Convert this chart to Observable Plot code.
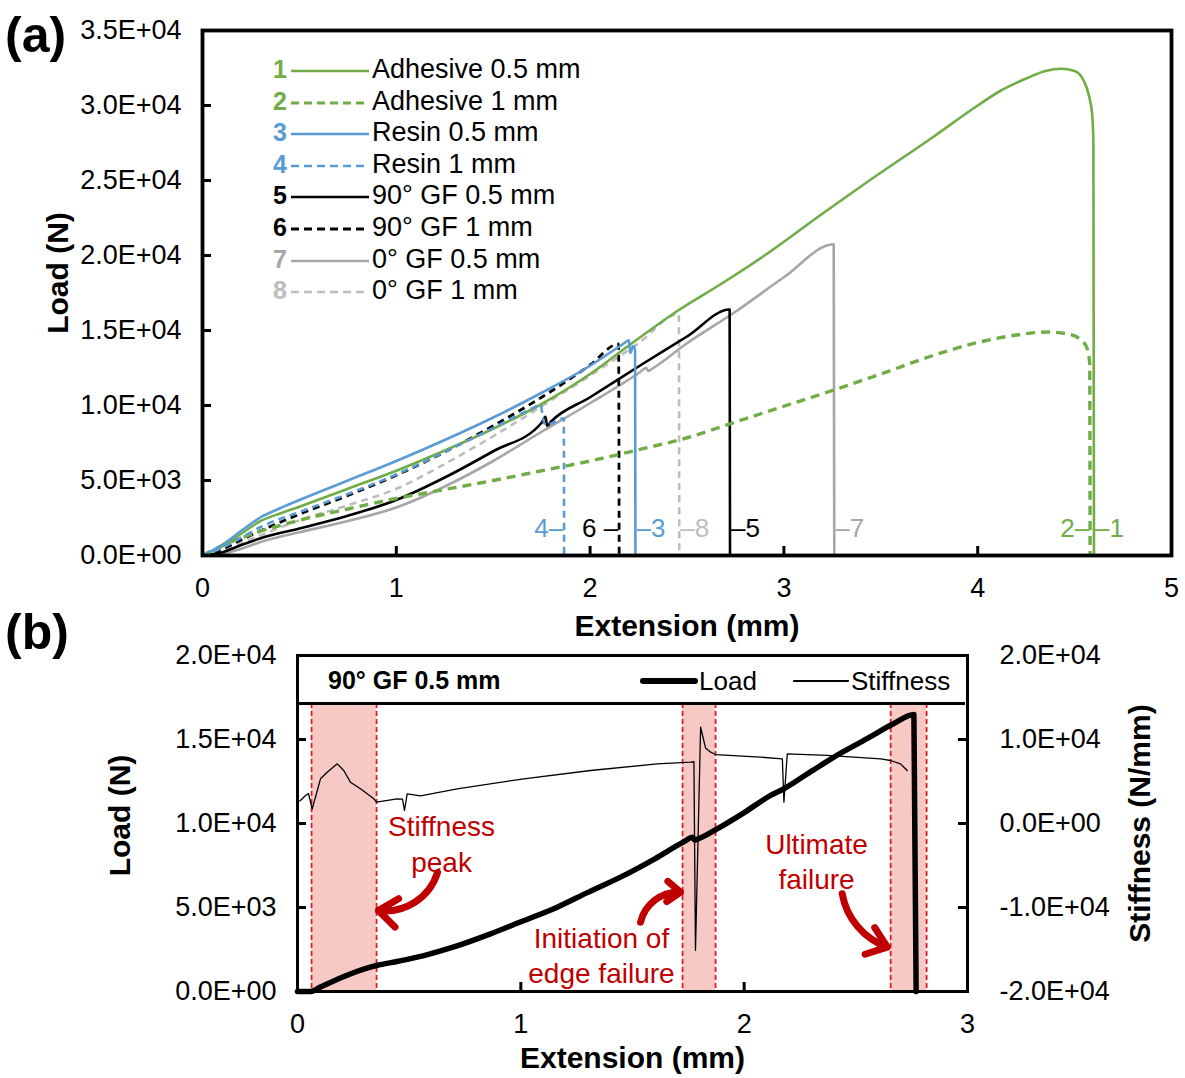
<!DOCTYPE html>
<html><head><meta charset="utf-8">
<script src="https://cdn.jsdelivr.net/npm/d3@7"></script>
<script src="https://cdn.jsdelivr.net/npm/@observablehq/plot@0.6"></script>
<style>
body{margin:0;background:#fff;}
#wrap{position:relative;width:1185px;height:1078px;font-family:'Liberation Sans',Arial,sans-serif;overflow:hidden;}
.lg{position:absolute;white-space:nowrap;line-height:1;}
</style></head><body><div id="wrap"></div>
<script>
// ---------- DATA: panel (a) load–extension curves [extension mm, load N] ----------
const adhesive05 = [[0,0],[0.1,600],[0.2,1450],[0.3,2300],[0.4,2800],[0.5,3250],[0.75,4450],[1.0,5650],[1.25,7000],[1.5,8450],[1.75,10100],[2.0,12100],[2.2,14000],[2.45,16300],[2.7,18300],[2.9,20000],[3.2,22800],[3.43,24900],[3.77,27900],[4.0,30000],[4.12,31000],[4.25,31800],[4.35,32300],[4.43,32450],[4.5,32300],[4.545,31700],[4.575,30600],[4.592,29200],[4.597,27500],[4.6,0]];
const adhesive1 = [[0,0],[0.1,650],[0.25,1400],[0.5,2350],[0.75,3100],[1.0,3800],[1.25,4400],[1.5,5000],[1.75,5650],[2.0,6300],[2.25,7050],[2.5,7850],[2.75,8900],[3.0,9950],[3.25,11000],[3.5,12100],[3.75,13250],[4.0,14200],[4.2,14700],[4.36,14900],[4.47,14750],[4.53,14400],[4.565,13800],[4.578,12800],[4.58,0]];
const resin05 = [[0,0],[0.1,700],[0.2,1650],[0.3,2550],[0.4,3150],[0.5,3700],[0.75,5000],[1.0,6300],[1.25,7700],[1.5,9200],[1.75,10850],[2.0,12650],[2.17,14100],[2.2,14350],[2.207,13500],[2.222,13950],[2.232,13700],[2.234,0]];
const resin1 = [[0,0],[0.1,500],[0.2,1200],[0.3,1900],[0.5,2900],[0.75,4100],[1.0,5400],[1.25,6900],[1.5,8500],[1.7,9800],[1.745,10050],[1.755,9300],[1.77,8700],[1.8,8800],[1.864,9150],[1.866,0]];
const gf90_05 = [[0,0],[0.1,200],[0.2,700],[0.3,1150],[0.5,1800],[0.75,2650],[1.0,3700],[1.25,5200],[1.5,6950],[1.75,8850],[1.77,9250],[1.778,8650],[1.8,8950],[2.0,10550],[2.25,12600],[2.5,14600],[2.72,16400],[2.722,0]];
const gf90_1 = [[0,0],[0.1,400],[0.2,1050],[0.3,1650],[0.5,2750],[0.75,4000],[1.0,5350],[1.25,6900],[1.5,8650],[1.75,10550],[2.0,12700],[2.147,14100],[2.15,0]];
const gf0_05 = [[0,0],[0.1,100],[0.2,450],[0.3,900],[0.5,1550],[0.75,2300],[1.0,3200],[1.25,4600],[1.5,6300],[1.75,8250],[2.0,10150],[2.25,12150],[2.29,12500],[2.3,12300],[2.32,12450],[2.5,14150],[2.75,16250],[3.0,18550],[3.257,20750],[3.26,0]];
const gf0_1 = [[0,0],[0.1,300],[0.2,850],[0.3,1350],[0.5,2350],[0.75,3350],[1.0,4450],[1.25,6100],[1.5,7950],[1.75,9950],[2.0,12000],[2.25,14150],[2.458,16100],[2.46,0]];

const seriesIds = [1,2,3,4,5,6,7,8];
const seriesNames = ["Adhesive 0.5 mm","Adhesive 1 mm","Resin 0.5 mm","Resin 1 mm","90° GF 0.5 mm","90° GF 1 mm","0° GF 0.5 mm","0° GF 1 mm"];
const seriesData = [adhesive05, adhesive1, resin05, resin1, gf90_05, gf90_1, gf0_05, gf0_1];
// failure-point labels: series id, text, which side of the drop line
const dropLabelIds = [4,6,3,8,5,7,2,1];
const dropLabelTexts = ["4–","6 –","–3","–8","–5","–7","2–","–1"];
const dropLabelSides = ["left","left","right","right","right","right","left","right"];
const dropLabelLoad = 1800;

// tick values / labels panel (a)
const xTicksA = [0,1,2,3,4,5];
const xTickLabelsA = ["0","1","2","3","4","5"];
const yTicksA = [0,5000,10000,15000,20000,25000,30000,35000];
const yTickLabelsA = ["0.0E+00","5.0E+03","1.0E+04","1.5E+04","2.0E+04","2.5E+04","3.0E+04","3.5E+04"];

// ---------- DATA: panel (b) 90° GF 0.5 mm ----------
const loadB = [[0,0],[0.06,0],[0.1,250],[0.2,850],[0.3,1350],[0.354,1550],[0.45,1800],[0.566,2140],[0.7,2650],[0.864,3430],[1.0,4150],[1.163,5020],[1.3,5900],[1.46,6900],[1.6,7900],[1.727,8890],[1.77,9180],[1.778,9020],[1.8,9120],[1.875,9650],[2.0,10650],[2.118,11670],[2.178,12070],[2.3,13100],[2.43,14170],[2.55,15050],[2.67,15950],[2.76,16490],[2.77,0]];
const stiffB = [[0.0,2600],[0.013,2740],[0.036,3330],[0.049,3570],[0.066,1750],[0.103,5320],[0.133,6110],[0.178,7100],[0.207,6310],[0.237,4920],[0.282,4130],[0.342,2940],[0.354,2540],[0.446,2940],[0.47,2900],[0.479,1550],[0.491,3530],[0.551,3300],[0.715,4130],[1.013,5320],[1.312,6310],[1.611,7100],[1.76,7300],[1.775,7350],[1.782,-15100],[1.805,11460],[1.827,9000],[1.85,8490],[1.872,8210],[2.073,7900],[2.171,7700],[2.178,2540],[2.193,8300],[2.372,8100],[2.611,7700],[2.656,7500],[2.7,7100],[2.73,6310]];
const zoneStart = [0.063,1.724,2.656];
const zoneEnd = [0.354,1.872,2.817];
const annotTexts = ["Stiffness\npeak","Initiation of\nedge failure","Ultimate\nfailure"];
const annotX = [0.645,1.361,2.324];
const annotLoad = [8870,2232,7827];
const arrowFrom = [[0.627,7083],[1.536,4125],[2.439,5815]];
const arrowTo = [[0.362,4820],[1.715,5910],[2.641,2637]];
const arrowBend = [40,40,-30];

const xTicksB = [0,1,2,3];
const xTickLabelsB = ["0","1","2","3"];
const loadTicksB = [0,5000,10000,15000,20000];
const loadTickLabelsB = ["0.0E+00","5.0E+03","1.0E+04","1.5E+04","2.0E+04"];
const stiffTicksB = [-20000,-10000,0,10000,20000];
const stiffTickLabelsB = ["-2.0E+04","-1.0E+04","0.0E+00","1.0E+04","2.0E+04"];

// ---------- STYLES ----------
const FONT = "'Liberation Sans', Arial, sans-serif";
const GREEN = "#70ad47", BLUE = "#5b9bd5", GRAY = "#a6a6a6", LGRAY = "#bdbdbd", RED = "#c00000";
const styleById = {
  1:{stroke:GREEN, dash:null, w:2.6},
  2:{stroke:GREEN, dash:"9,6", w:3.4},
  3:{stroke:BLUE, dash:null, w:2.6},
  4:{stroke:BLUE, dash:"7,5", w:2.6},
  5:{stroke:"#000", dash:null, w:2.6},
  6:{stroke:"#000", dash:"7,5", w:2.8},
  7:{stroke:GRAY, dash:null, w:2.6},
  8:{stroke:LGRAY, dash:"7,5", w:2.6}
};
const drawOrder = [8,7,6,5,2,1,4,3];

const wrap = document.getElementById("wrap");
function place(el, left, top){ el.style.position="absolute"; el.style.left=left+"px"; el.style.top=top+"px"; wrap.appendChild(el); return el; }
const lookup = (vals, labels) => { const m = new Map(vals.map((v,i)=>[v,labels[i]])); return d => m.get(d); };

// ---------- PANEL (a) ----------
const A = {w:1185, h:640, ml:202, mr:14, mt:30, mb:85};
const innerHA = A.h - A.mt - A.mb, innerWA = A.w - A.ml - A.mr;
const lineMarksA = drawOrder.map(id => {
  const s = styleById[id];
  return Plot.line(seriesData[id-1], {x:d=>d[0], y:d=>d[1], curve:"monotone-x", stroke:s.stroke, strokeWidth:s.w, strokeDasharray:s.dash, strokeLinecap:"butt"});
});
const dropRows = dropLabelIds.map((id,i)=>({id, text:dropLabelTexts[i], side:dropLabelSides[i], x: seriesData[id-1][seriesData[id-1].length-1][0]}));
const plotA = Plot.plot({
  width:A.w, height:A.h, marginLeft:A.ml, marginRight:A.mr, marginTop:A.mt, marginBottom:A.mb,
  x:{domain:[0,5]}, y:{domain:[0,35000]},
  style:{fontFamily:FONT, background:"none", overflow:"visible", color:"#000"},
  marks:[
    ...lineMarksA,
    Plot.text(dropRows.filter(d=>d.side==="left"), {x:"x", y:()=>dropLabelLoad, text:"text", fill:d=>styleById[d.id].stroke, textAnchor:"end", dx:-1, fontSize:26}),
    Plot.text(dropRows.filter(d=>d.side==="right"), {x:"x", y:()=>dropLabelLoad, text:"text", fill:d=>styleById[d.id].stroke, textAnchor:"start", dx:1, fontSize:26}),
    Plot.tickX(xTicksA.slice(1,-1), {x:d=>d, insetTop:innerHA-9, strokeWidth:3}),
    Plot.tickY(yTicksA.slice(1,-1), {y:d=>d, insetRight:innerWA-9, strokeWidth:3}),
    Plot.frame({strokeWidth:3.8}),
    Plot.axisX(xTicksA, {tickSize:0, tickPadding:22, tickFormat:lookup(xTicksA,xTickLabelsA), label:null, fontSize:27}),
    Plot.axisY(yTicksA, {tickSize:0, tickPadding:21, tickFormat:lookup(yTicksA,yTickLabelsA), label:null, fontSize:27}),
    Plot.text(["Extension (mm)"], {frameAnchor:"bottom", dy:71, lineAnchor:"middle", textAnchor:"middle", fontWeight:"bold", fontSize:30}),
    Plot.text(["Load (N)"], {frameAnchor:"left", dx:-144, dy:-20, rotate:-90, textAnchor:"middle", lineAnchor:"middle", fontWeight:"bold", fontSize:30})
  ]
});
place(plotA, 0, 0);

// legend (a)
const rowTop0 = 71, rowStep = 31.6;
seriesIds.forEach((id,i)=>{
  const s = styleById[id];
  const cy = rowTop0 + i*rowStep;
  const num = document.createElement("div"); num.className="lg";
  num.textContent = String(id);
  num.style.cssText += `font-weight:bold;font-size:25px;color:${s.stroke};width:24px;text-align:right;`;
  place(num, 263, cy-14);
  const sv = document.createElementNS("http://www.w3.org/2000/svg","svg");
  sv.setAttribute("width","80"); sv.setAttribute("height","10");
  const ln = document.createElementNS("http://www.w3.org/2000/svg","line");
  ln.setAttribute("x1","0"); ln.setAttribute("x2","78"); ln.setAttribute("y1","5"); ln.setAttribute("y2","5");
  ln.setAttribute("stroke", s.stroke); ln.setAttribute("stroke-width", String(Math.min(s.w,3)));
  if (s.dash) ln.setAttribute("stroke-dasharray","8,5");
  sv.appendChild(ln);
  place(sv, 291, cy-5);
  const lab = document.createElement("div"); lab.className="lg";
  lab.textContent = seriesNames[i];
  lab.style.cssText += "font-size:27px;color:#000;";
  place(lab, 372, cy-15);
});

// ---------- PANEL (b) ----------
const B = {w:1185, h:438, ml:297, mr:218, mt:15, mb:87};
const innerHB = B.h - B.mt - B.mb, innerWB = B.w - B.ml - B.mr;
const toLeft = s => (s + 20000) / 2; // stiffness -> load-axis position
const zones = zoneStart.map((x1,i)=>({x1, x2:zoneEnd[i]}));
const zoneEdges = zoneStart.concat(zoneEnd);
const annots = annotTexts.map((t,i)=>({text:t, x:annotX[i], y:annotLoad[i]}));
const arrowMarks = arrowFrom.map((f,i)=>Plot.arrow([{x1:f[0],y1:f[1],x2:arrowTo[i][0],y2:arrowTo[i][1]}],
  {x1:"x1", y1:"y1", x2:"x2", y2:"y2", bend:arrowBend[i], stroke:RED, strokeWidth:7, headLength:13, headAngle:75}));
const plotB = Plot.plot({
  width:B.w, height:B.h, marginLeft:B.ml, marginRight:B.mr, marginTop:B.mt, marginBottom:B.mb,
  x:{domain:[0,3]}, y:{domain:[0,20000]},
  style:{fontFamily:FONT, background:"none", overflow:"visible", color:"#000"},
  marks:[
    Plot.rect(zones, {x1:"x1", x2:"x2", fill:"#f7c9c4"}),
    Plot.ruleX(zoneEdges, {x:d=>d, stroke:"#e8101a", strokeWidth:1.7, strokeDasharray:"5,3"}),
    Plot.line(loadB, {x:d=>d[0], y:d=>d[1], curve:"monotone-x", stroke:"#000", strokeWidth:5.5}),
    Plot.line(stiffB, {x:d=>d[0], y:d=>toLeft(d[1]), stroke:"#000", strokeWidth:1.3}),
    Plot.text(annots, {x:"x", y:"y", text:"text", fill:RED, fontSize:28, lineHeight:1.28}),
    ...arrowMarks,
    Plot.tickX(xTicksB.slice(1,-1), {x:d=>d, insetTop:innerHB-9, strokeWidth:3}),
    Plot.tickY(loadTicksB.slice(1,-1), {y:d=>d, insetRight:innerWB-9, strokeWidth:3}),
    Plot.tickY(stiffTicksB.slice(1,-1).map(toLeft), {y:d=>d, insetLeft:innerWB-9, strokeWidth:3}),
    Plot.frame({strokeWidth:3}),
    Plot.axisX(xTicksB, {tickSize:0, tickPadding:22, tickFormat:lookup(xTicksB,xTickLabelsB), label:null, fontSize:27}),
    Plot.axisY(loadTicksB, {anchor:"left", tickSize:0, tickPadding:21, tickFormat:lookup(loadTicksB,loadTickLabelsB), label:null, fontSize:27}),
    Plot.axisY(stiffTicksB.map(toLeft), {anchor:"right", tickSize:0, tickPadding:32, tickFormat:lookup(stiffTicksB.map(toLeft),stiffTickLabelsB), label:null, fontSize:27}),
    Plot.text(["Extension (mm)"], {frameAnchor:"bottom", dy:67, lineAnchor:"middle", textAnchor:"middle", fontWeight:"bold", fontSize:30}),
    Plot.text(["Load (N)"], {frameAnchor:"left", dx:-177, dy:-8, rotate:-90, textAnchor:"middle", lineAnchor:"middle", fontWeight:"bold", fontSize:30}),
    Plot.text(["Stiffness (N/mm)"], {frameAnchor:"right", dx:173, rotate:-90, textAnchor:"middle", lineAnchor:"middle", fontWeight:"bold", fontSize:30})
  ]
});
place(plotB, 0, 640);

// legend strip (b)
const strip = document.createElement("div");
strip.style.cssText = "width:666px;height:45px;background:#fff;border-bottom:3px solid #000;";
place(strip, 299, 657);
const t1 = document.createElement("div"); t1.className="lg"; t1.textContent = seriesNames[4];
t1.style.cssText += "font-weight:bold;font-size:25px;";
place(t1, 328, 668);
function sample(left, w, sw){
  const d = document.createElement("div");
  d.style.cssText = `width:${w}px;height:${sw}px;background:#000;border-radius:${sw/2}px;`;
  place(d, left, 681 - sw/2);
}
sample(640, 58, 6); sample(793, 56, 1.5);
const t2 = document.createElement("div"); t2.className="lg"; t2.textContent="Load"; t2.style.cssText+="font-size:26px;"; place(t2, 699, 668);
const t3 = document.createElement("div"); t3.className="lg"; t3.textContent="Stiffness"; t3.style.cssText+="font-size:26px;"; place(t3, 851, 668);

// panel letters
const la = document.createElement("div"); la.className="lg"; la.textContent="(a)"; la.style.cssText+="font-weight:bold;font-size:50px;"; place(la, 5, 10);
const lb = document.createElement("div"); lb.className="lg"; lb.textContent="(b)"; lb.style.cssText+="font-weight:bold;font-size:50px;"; place(lb, 5, 607);
</script>
</body></html>
